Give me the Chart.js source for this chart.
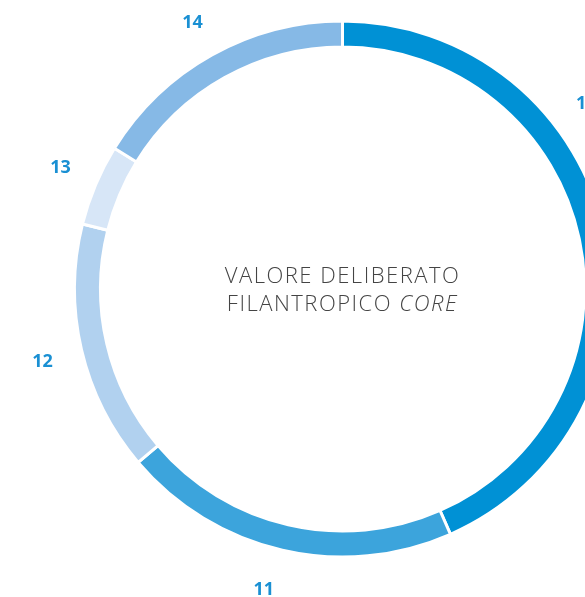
<!DOCTYPE html>
<html>
<head>
<meta charset="utf-8">
<script src="https://cdn.jsdelivr.net/npm/chart.js@4"></script>
<style>
  html, body { margin: 0; padding: 0; background: #fff; overflow: hidden; }
  #wrap { width: 686px; height: 597px; }
</style>
</head>
<body>
<div id="wrap"><canvas id="donut" width="686" height="597"></canvas></div>
<script>
const labels = ['10', '11', '12', '13', '14']
const values = [43.4, 20.4, 15.1, 4.9, 16.2]
const colors = ['#0091d5', '#3ca4dc', '#b1d1ef', '#d7e6f7', '#86b9e6']

// labels around the ring + the text in the middle
const ringLabels = {
  id: 'ringLabels',
  afterDraw(chart) {
    const ctx = chart.ctx
    const arcs = chart.getDatasetMeta(0).data
    ctx.save()
    ctx.fillStyle = '#1a90d3'
    ctx.font = 'bold 18px "Open Sans"'
    ctx.textAlign = 'center'
    ctx.textBaseline = 'middle'
    // where in each slice the label goes (first one early so it stays visible)
    const where = [0.335, 0.525, 0.5, 0.55, 0.5]
    arcs.forEach((arc, i) => {
      const p = arc.getProps(['x', 'y', 'startAngle', 'endAngle', 'outerRadius'])
      const a = p.startAngle + (p.endAngle - p.startAngle) * where[i]
      const r = p.outerRadius + 40
      ctx.fillText(labels[i], p.x + Math.cos(a) * r, p.y + Math.sin(a) * r + 3)
    })
    const c = arcs[0]
    ctx.fillStyle = '#444444'
    ctx.letterSpacing = '1.5px'
    const f1 = '300 22px "Open Sans"'
    const f2 = 'italic 300 22px "Open Sans"'
    ctx.font = f1
    ctx.fillText('VALORE DELIBERATO', c.x, c.y - 12)
    const w1 = ctx.measureText('FILANTROPICO ').width
    ctx.font = f2
    const w2 = ctx.measureText('CORE').width
    const x0 = c.x - (w1 + w2) / 2
    ctx.textAlign = 'left'
    ctx.font = f1
    ctx.fillText('FILANTROPICO ', x0, c.y + 16)
    ctx.font = f2
    ctx.fillText('CORE', x0 + w1, c.y + 16)
    ctx.restore()
  }
}

const ctx = document.getElementById('donut').getContext('2d')
const myChart = new Chart(ctx, {
  type: 'doughnut',
  data: {
    labels: labels,
    datasets: [{
      data: values,
      backgroundColor: colors,
      borderColor: '#ffffff',
      borderWidth: 3
    }]
  },
  options: {
    responsive: false,
    animation: false,
    cutout: '90.3%',
    layout: { padding: { top: 19, bottom: 38, left: 73, right: 74 } },
    plugins: {
      legend: { display: false },
      tooltip: { enabled: false }
    }
  },
  plugins: [ringLabels]
})
</script>
</body>
</html>
